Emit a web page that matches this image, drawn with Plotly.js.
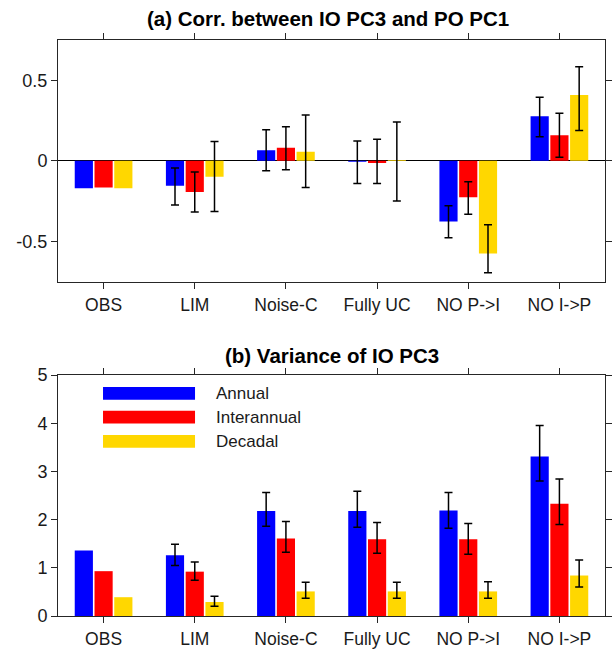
<!DOCTYPE html>
<html>
<head>
<meta charset="utf-8">
<script src="https://cdn.plot.ly/plotly-3.0.1.min.js"></script>
<style>html,body{margin:0;padding:0;background:#fff;}#chart{width:615px;height:651px;}</style>
</head>
<body>
<div id="chart"></div>
<script>
// Categories
const categories = ["OBS", "LIM", "Noise-C", "Fully UC", "NO P->I", "NO I->P"];
const seriesNames = ["Annual", "Interannual", "Decadal"];

// (a) Correlation values
const corrAnnual   = [-0.170, -0.155, 0.066, -0.005, -0.377, 0.276];
const corrInter    = [-0.165, -0.193, 0.081, -0.013, -0.226, 0.159];
const corrDecadal  = [-0.170, -0.098, 0.056,  0.006, -0.575, 0.408];
// (a) error bar ends (low / high)
const corrAnnualLo = [null, -0.274, -0.062, -0.140, -0.477, 0.149];
const corrAnnualHi = [null, -0.044,  0.193,  0.123, -0.278, 0.395];
const corrInterLo  = [null, -0.317, -0.056, -0.140, -0.331, 0.023];
const corrInterHi  = [null, -0.070,  0.212,  0.134, -0.130, 0.295];
const corrDecLo    = [null, -0.315, -0.166, -0.249, -0.695, 0.188];
const corrDecHi    = [null,  0.120,  0.284,  0.241, -0.397, 0.584];

// (b) Variance values
const varAnnual   = [1.36, 1.26, 2.18, 2.18, 2.19, 3.31];
const varInter    = [0.93, 0.92, 1.61, 1.59, 1.59, 2.33];
const varDecadal  = [0.39, 0.29, 0.51, 0.51, 0.51, 0.84];
// (b) error bar ends (low / high)
const varAnnualLo = [null, 1.05, 1.86, 1.84, 1.82, 2.80];
const varAnnualHi = [null, 1.49, 2.56, 2.59, 2.56, 3.95];
const varInterLo  = [null, 0.74, 1.32, 1.30, 1.28, 1.90];
const varInterHi  = [null, 1.12, 1.96, 1.94, 1.92, 2.84];
const varDecLo    = [null, 0.20, 0.37, 0.37, 0.37, 0.60];
const varDecHi    = [null, 0.41, 0.70, 0.70, 0.71, 1.16];

// Tick labels
const corrTickVals = [-0.5, 0, 0.5];
const corrTickText = ["-0.5", "0", "0.5"];
const varTickVals = [0, 1, 2, 3, 4, 5];
const varTickText = ["0", "1", "2", "3", "4", "5"];

const colors = ["#0000FF", "#FF0000", "#FFD700"];
const FONT = "Liberation Sans, Arial, Helvetica, sans-serif";
const AX = "#262626";

function errObj(vals, lo, hi) {
  return {
    type: "data", symmetric: false,
    array: vals.map((v, i) => hi[i] == null ? NaN : hi[i] - v),
    arrayminus: vals.map((v, i) => lo[i] == null ? NaN : v - lo[i]),
    color: "#000", thickness: 1.5, width: 4, visible: true
  };
}

function barTrace(vals, lo, hi, k, xa, ya) {
  return {
    type: "bar", x: categories, y: vals, name: seriesNames[k],
    xaxis: xa, yaxis: ya, showlegend: false,
    marker: {color: colors[k], line: {width: 0}},
    error_y: errObj(vals, lo, hi), hoverinfo: "skip"
  };
}

const data = [
  barTrace(corrAnnual, corrAnnualLo, corrAnnualHi, 0, "x", "y"),
  barTrace(corrInter, corrInterLo, corrInterHi, 1, "x", "y"),
  barTrace(corrDecadal, corrDecLo, corrDecHi, 2, "x", "y"),
  barTrace(varAnnual, varAnnualLo, varAnnualHi, 0, "x2", "y2"),
  barTrace(varInter, varInterLo, varInterHi, 1, "x2", "y2"),
  barTrace(varDecadal, varDecLo, varDecHi, 2, "x2", "y2")
];

function xAxis(anchor) {
  return {
    anchor: anchor, domain: [0, 1], type: "category",
    range: [-0.5, 5.5], showline: true, linecolor: AX, linewidth: 1,
    mirror: "ticks", ticks: "outside", ticklen: 6, tickcolor: AX, tickwidth: 1,
    showgrid: false, zeroline: false, ticklabelstandoff: 1,
    tickfont: {family: FONT, size: 17.5, color: "#1a1a1a"}
  };
}
function yAxis(anchor, domain, range, tv, tt, zl) {
  return {
    anchor: anchor, domain: domain, range: range,
    tickmode: "array", tickvals: tv, ticktext: tt,
    showline: true, linecolor: AX, linewidth: 1,
    mirror: "ticks", ticks: "outside", ticklen: 6, tickcolor: AX, tickwidth: 1,
    showgrid: false, zeroline: zl, zerolinecolor: "#000", zerolinewidth: 1.2,
    tickfont: {family: FONT, size: 18, color: "#1a1a1a"}
  };
}

// legend drawn as shapes + annotations
const legRowsY = [0.3866, 0.3451, 0.3033];
const shapes = legRowsY.map((y, k) => ({
  type: "rect", xref: "paper", yref: "paper",
  x0: 0.0823, x1: 0.2505, y0: y - 0.0111, y1: y + 0.0111,
  fillcolor: colors[k], line: {width: 0}
}));
const annotations = legRowsY.map((y, k) => ({
  xref: "paper", yref: "paper", x: 0.2846, y: y, xanchor: "left", yanchor: "middle",
  text: seriesNames[k], showarrow: false,
  font: {family: FONT, size: 17, color: "#1a1a1a"}
}));
annotations.push({
  xref: "paper", yref: "paper", x: 0.494, y: 1.037, xanchor: "center", yanchor: "middle",
  text: "<b>(a) Corr. between IO PC3 and PO PC1</b>", showarrow: false,
  font: {family: FONT, size: 20.5, color: "#000"}
});
annotations.push({
  xref: "paper", yref: "paper", x: 0.5, y: 0.4514, xanchor: "center", yanchor: "middle",
  text: "<b>(b) Variance of IO PC3</b>", showarrow: false,
  font: {family: FONT, size: 20.5, color: "#000"}
});

const layout = {
  width: 615, height: 651,
  margin: {l: 58, r: 10, t: 40, b: 35},
  paper_bgcolor: "#fff", plot_bgcolor: "#fff",
  barmode: "group", bargap: 0.35, bargroupgap: 0.08,
  showlegend: false,
  xaxis: xAxis("y"),
  yaxis: yAxis("x", [0.5804, 1], [-0.75, 0.75], corrTickVals, corrTickText, true),
  xaxis2: xAxis("y2"),
  yaxis2: yAxis("x2", [0, 0.4184], [0, 5], varTickVals, varTickText, false),
  shapes: shapes,
  annotations: annotations
};

Plotly.newPlot("chart", data, layout, {displayModeBar: false, staticPlot: true});
</script>
</body>
</html>
